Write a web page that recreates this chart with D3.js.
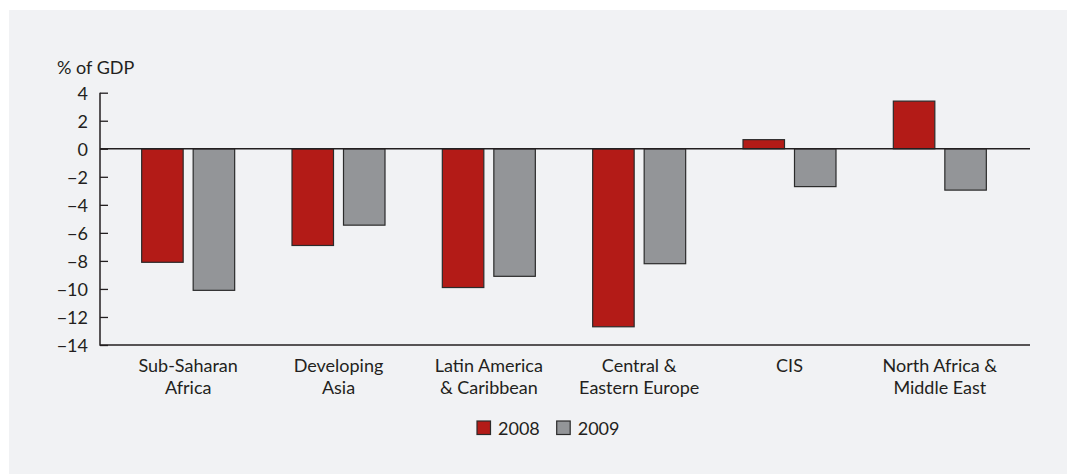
<!DOCTYPE html>
<html><head><meta charset="utf-8">
<script src="https://cdn.jsdelivr.net/npm/d3@7"></script>
<style>
html,body{margin:0;padding:0;background:#fff;}
svg text{font-family:Lato,"Open Sans",sans-serif;fill:#231f20;}
</style></head>
<body><svg id="c" width="1067" height="474"></svg>
<script>
const categories = [["Sub-Saharan","Africa"],["Developing","Asia"],["Latin America","& Caribbean"],["Central &","Eastern Europe"],["CIS"],["North Africa &","Middle East"]];
const series = ["2008","2009"];
const values2008 = [-8.1, -6.9, -9.9, -12.7, 0.65, 3.4];
const values2009 = [-10.1, -5.45, -9.1, -8.2, -2.7, -2.95];
const yTicks = [4,2,0,-2,-4,-6,-8,-10,-12,-14];
const colors = ["#b31b17","#939598"];

const svg = d3.select("#c");
svg.append("rect").attr("x",9).attr("y",10).attr("width",1058).attr("height",464).attr("fill","#f1f2f4");

const y = d3.scaleLinear().domain([-14,4]).range([345,92.7]);
const x = d3.scaleBand().domain(d3.range(categories.length)).range([113,1015]);
const barW = 41.5, gap = 10;
const data = [values2008, values2009];

// bars
series.forEach((s,si)=>{
  svg.append("g").selectAll("rect").data(data[si]).join("rect")
    .attr("x",(d,i)=>x(i)+x.bandwidth()/2 + (si===0 ? -gap/2-barW : gap/2))
    .attr("y",d=>y(Math.max(0,d)))
    .attr("width",barW)
    .attr("height",d=>Math.abs(y(d)-y(0)))
    .attr("fill",colors[si])
    .attr("stroke","#2b2b2b").attr("stroke-width",1.2);
});

// y axis
const ya = d3.axisRight(y).tickValues(yTicks).tickSize(8).tickFormat(d=>d<0?"\u2212"+Math.abs(d):d);
const yg = svg.append("g").attr("transform","translate(100,0)").call(ya);
yg.select(".domain").remove();
yg.selectAll(".tick line").attr("stroke","#231f20").attr("stroke-width",1.3);
yg.selectAll(".tick text").attr("x",-12).attr("text-anchor","end").attr("dy","0.36em")
  .style("font-size","18px");
svg.append("line").attr("x1",100).attr("x2",100).attr("y1",y(4)).attr("y2",y(-14)+0.7).attr("stroke","#231f20").attr("stroke-width",1.5);
svg.append("line").attr("x1",100).attr("x2",1030).attr("y1",y(-14)).attr("y2",y(-14)).attr("stroke","#231f20").attr("stroke-width",1.5);
svg.append("line").attr("x1",100).attr("x2",1030).attr("y1",y(0)).attr("y2",y(0)).attr("stroke","#231f20").attr("stroke-width",1.3);

svg.append("text").attr("x",57).attr("y",74).text("% of GDP").style("font-size","18px");

// category labels
const cl = svg.append("g").selectAll("text").data(categories).join("text")
  .attr("text-anchor","middle").style("font-size","18px")
  .attr("transform",(d,i)=>`translate(${x(i)+x.bandwidth()/2},0)`);
cl.selectAll("tspan").data(d=>d).join("tspan").attr("x",0).attr("y",(d,j)=>371.5+j*22).text(d=>d);

// legend
const lg = svg.append("g");
const legX = [477,556.7];
series.forEach((s,si)=>{
  lg.append("rect").attr("x",legX[si]).attr("y",421).attr("width",13.5).attr("height",13.5)
    .attr("fill",colors[si]).attr("stroke","#2b2b2b").attr("stroke-width",1.2);
  lg.append("text").attr("x",legX[si]+21).attr("y",435).text(s).style("font-size","18px");
});
</script></body></html>
